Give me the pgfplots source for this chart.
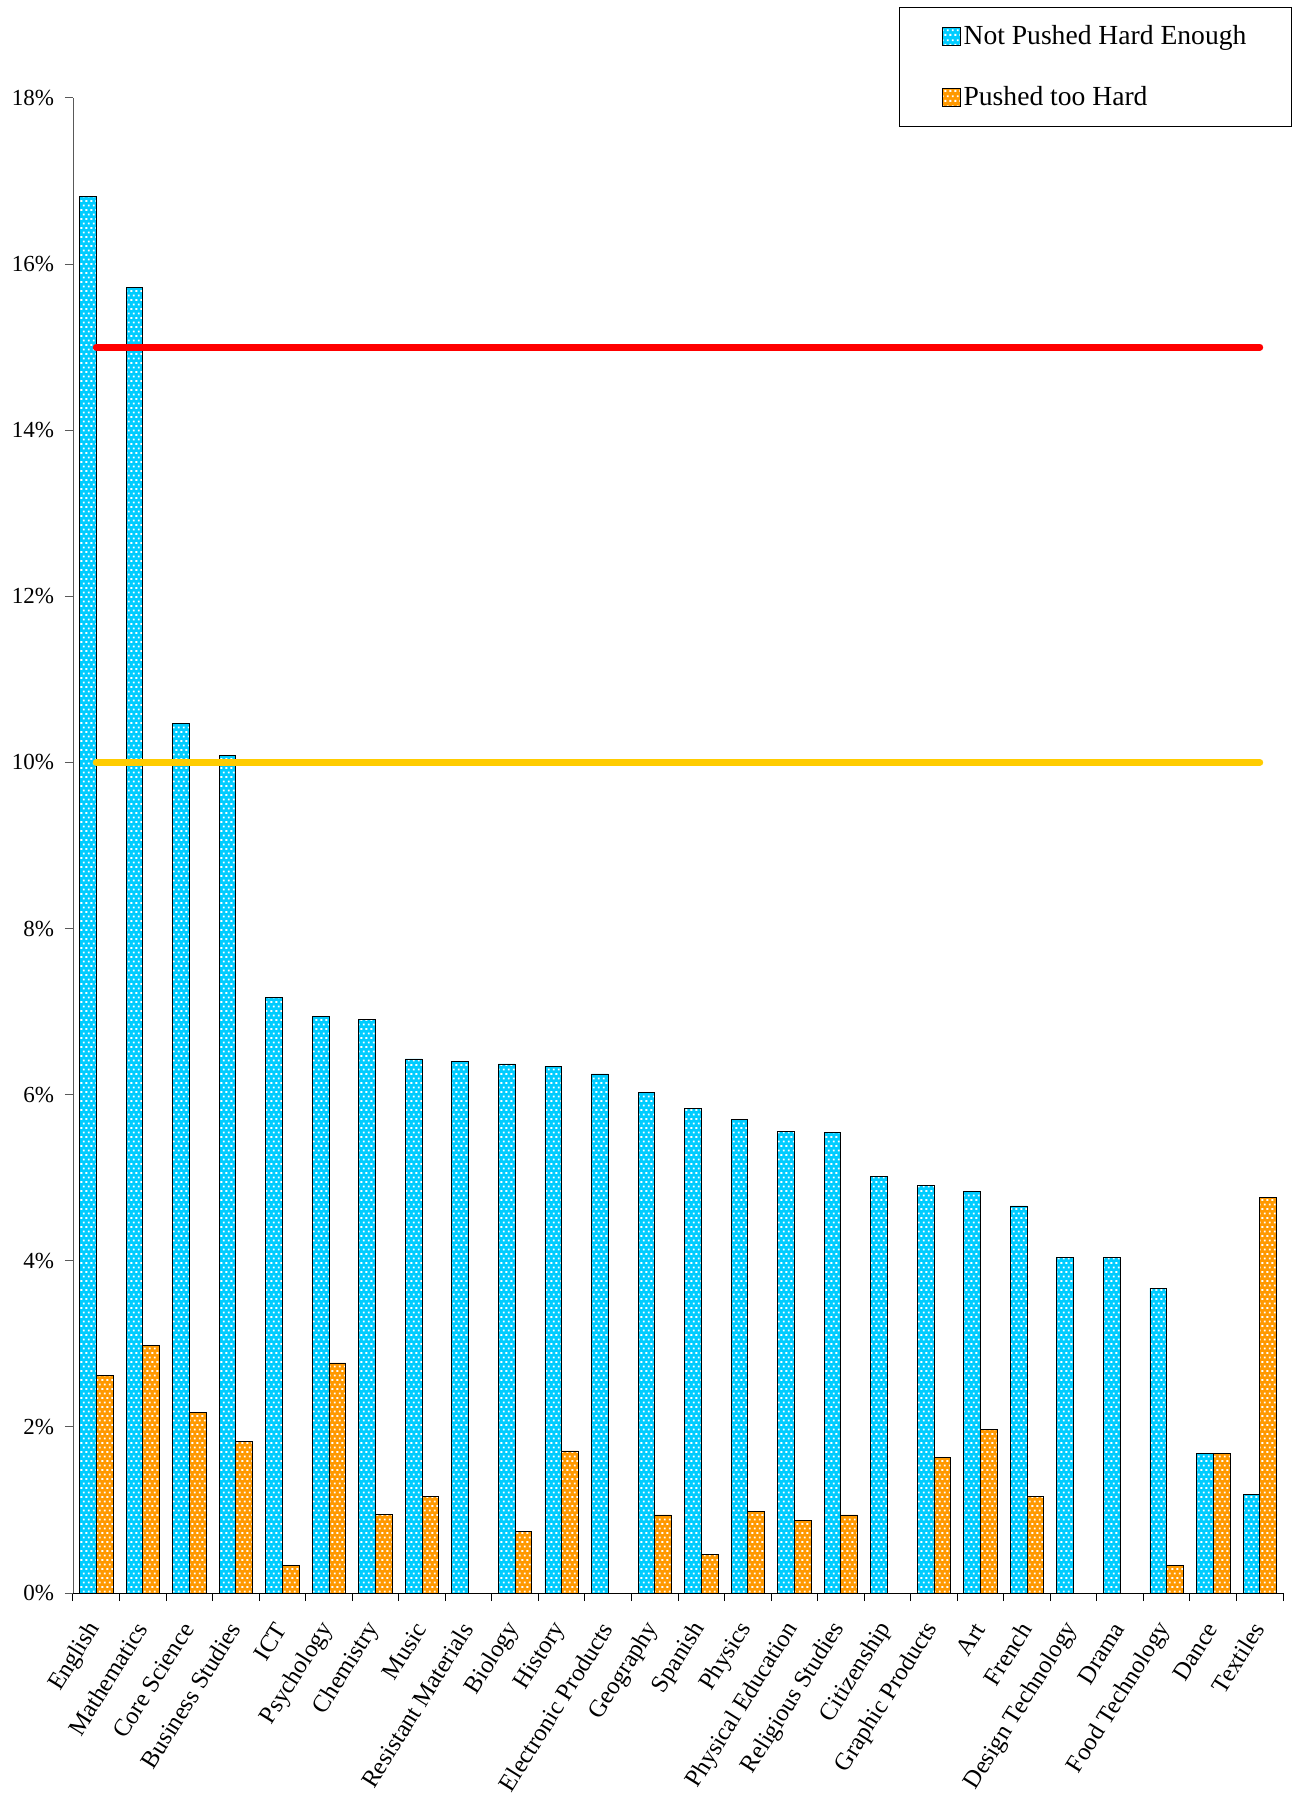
\documentclass[border=0pt]{standalone}
\usepackage{pgfplots}
\pgfplotsset{compat=1.18}
\usepackage{fontspec}
\setmainfont{Liberation Serif}
\usetikzlibrary{patterns}
\definecolor{cbar}{HTML}{00CCFF}
\definecolor{obar}{HTML}{FF9900}
\definecolor{yline}{HTML}{FFCC00}
\pgfdeclarepatternformonly{dashbrick}{\pgfqpoint{0pt}{0pt}}{\pgfqpoint{2.7pt}{4.7pt}}{\pgfqpoint{2.7pt}{4.7pt}}{%
  \pgfsetlinewidth{0.95pt}%
  \pgfpathmoveto{\pgfqpoint{0.2pt}{1.1pt}}\pgfpathlineto{\pgfqpoint{1.25pt}{1.1pt}}%
  \pgfpathmoveto{\pgfqpoint{1.55pt}{3.45pt}}\pgfpathlineto{\pgfqpoint{2.55pt}{3.45pt}}%
  \pgfusepath{stroke}}
\pgfplotstableread{
x nphe pth
0 16.81 2.62
1 15.72 2.98
2 10.47 2.17
3 10.08 1.82
4 7.17 0.33
5 6.94 2.77
6 6.91 0.95
7 6.43 1.16
8 6.40 0
9 6.37 0.74
10 6.34 1.71
11 6.25 0
12 6.03 0.94
13 5.83 0.46
14 5.70 0.98
15 5.56 0.87
16 5.54 0.94
17 5.01 0
18 4.91 1.63
19 4.83 1.97
20 4.66 1.16
21 4.04 0
22 4.04 0
23 3.67 0.33
24 1.68 1.68
25 1.19 4.76
}\datatable
\begin{document}
\begin{tikzpicture}
\begin{axis}[
  scale only axis, width=605pt, height=747.5pt,
  xmin=-0.5, xmax=25.5, ymin=0, ymax=18,
  axis x line*=bottom, axis y line*=left,
  y axis line style={gray!70!black},
  x axis line style={black},
  xtick={-0.5,0.5,...,25.5},
  x tick label as interval,
  xticklabels={English,Mathematics,Core Science,Business Studies,ICT,Psychology,Chemistry,Music,Resistant Materials,Biology,History,Electronic Products,Geography,Spanish,Physics,Physical Education,Religious Studies,Citizenship,Graphic Products,Art,French,Design Technology,Drama,Food Technology,Dance,Textiles},
  xticklabel style={yshift=-11pt, rotate=58, anchor=east, font=\fontsize{12.3}{14}\selectfont, inner sep=1pt},
  ytick={0,2,...,18},
  yticklabel={\pgfmathprintnumber{\tick}\%},
  yticklabel style={font=\fontsize{11.5}{13}\selectfont, xshift=-2pt},
  /pgf/number format/assume math mode=true,
  tick align=outside, major tick length=4pt,
  tick style={black, line width=0.5pt},
  ytick style={gray!70!black},
  legend style={at={(1.0074,1.0609)}, anchor=north east, draw=black, line width=0.5pt,
    font=\fontsize{13.8}{16}\selectfont, inner xsep=21pt, inner ysep=7.5pt, row sep=16.5pt,
    nodes={inner sep=1.5pt}},
  legend cell align=left,
  legend image code/.code={\draw[#1] (0pt,-4.5pt) rectangle (9pt,4.5pt);},
]
\addplot[ybar, bar width=8.35pt, bar shift=-4.175pt, draw=black, line width=0.4pt, fill=cbar,
  postaction={pattern=dashbrick, pattern color=white}] table[x=x,y=nphe]{\datatable};
\addlegendentry{Not Pushed Hard Enough}
\addplot[ybar, bar width=8.35pt, bar shift=4.175pt, draw=black, line width=0.4pt, fill=obar,
  postaction={pattern=dashbrick, pattern color=white}] table[x=x,y=pth]{\datatable};
\addlegendentry{Pushed too Hard}
\addplot[forget plot, sharp plot, red, line width=3.5pt, line cap=round] coordinates {(0,15) (25,15)};
\addplot[forget plot, sharp plot, yline, line width=3.5pt, line cap=round] coordinates {(0,10) (25,10)};
\end{axis}
\pgfresetboundingbox
\path[use as bounding box] (-36.5pt,-101pt) rectangle (614pt,796.5pt);
\end{tikzpicture}
\end{document}
